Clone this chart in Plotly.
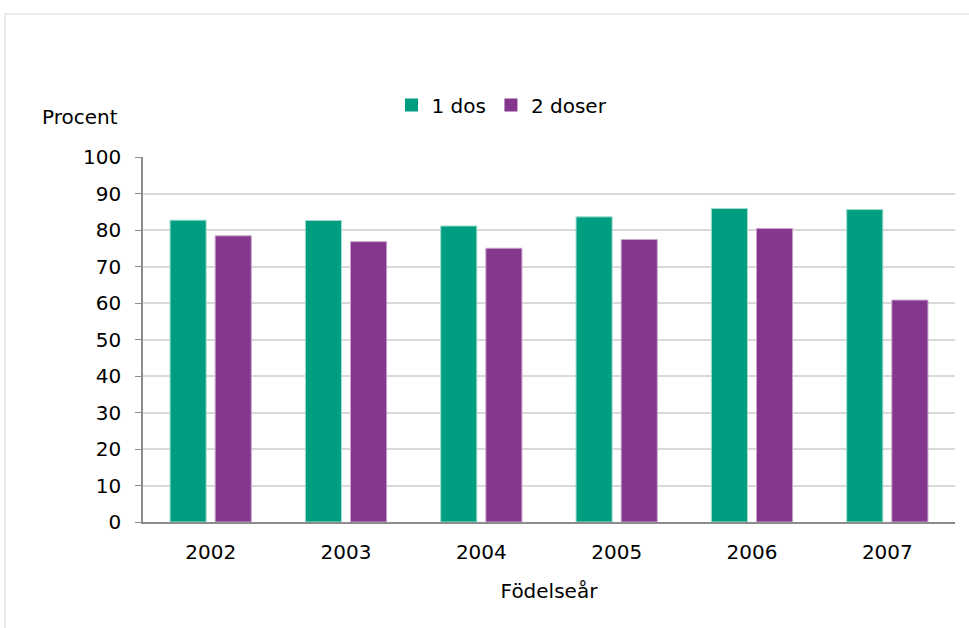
import plotly.graph_objects as go

years = ["2002", "2003", "2004", "2005", "2006", "2007"]
dos1 = [82.7, 82.6, 81.1, 83.6, 85.9, 85.6]
dos2 = [78.4, 76.8, 75.0, 77.4, 80.4, 60.8]
y_ticks = [0, 10, 20, 30, 40, 50, 60, 70, 80, 90, 100]
series_names = ["1 dos", "2 doser"]
colors = ["#009E80", "#84378C"]
edge_colors = ["#9fdccd", "#c9a3cd"]

FONT = "DejaVu Sans"
FS = 20

fig = go.Figure()
for name, vals, c, ec in zip(series_names, [dos1, dos2], colors, edge_colors):
    fig.add_trace(go.Bar(x=years, y=vals, name=name, showlegend=False,
                         marker=dict(color=c, line=dict(color=ec, width=1))))
for name, c in zip(series_names, colors):
    fig.add_trace(go.Scatter(x=[None], y=[None], mode="markers", name=name,
                             marker=dict(symbol="square", size=13, color=c)))

L, R, T, B = 143, 14, 157, 106
W, H = 969, 628
pw = W - L - R
ph = H - T - B

fig.update_layout(
    width=W, height=H,
    margin=dict(l=L, r=R, t=T, b=B, pad=0),
    paper_bgcolor="white", plot_bgcolor="white",
    barmode="group", bargap=0.333, bargroupgap=0.2,
    font=dict(family=FONT, size=FS, color="#000000"),
    showlegend=True,
    legend=dict(orientation="h", x=(502 - L) / pw, xanchor="center",
                y=(H - B - 105) / ph, yanchor="middle",
                font=dict(size=FS), itemwidth=30, traceorder="normal"),
    xaxis=dict(showline=True, linecolor="#8c8c8c", linewidth=2,
               ticks="", tickfont=dict(size=FS), ticklabelstandoff=11,
               title=dict(text="Födelseår", font=dict(size=FS), standoff=21)),
    yaxis=dict(range=[0, 100], tickvals=y_ticks, showgrid=True,
               gridcolor="#d9d9d9", gridwidth=1.5,
               showline=True, linecolor="#8c8c8c", linewidth=1.5,
               ticks="outside", ticklen=6, tickcolor="#8c8c8c",
               tickfont=dict(size=FS), ticklabelstandoff=10, zeroline=False),
    annotations=[dict(text="Procent", xref="paper", yref="paper",
                      x=(40 - L) / pw, xanchor="left",
                      y=(H - B - 117) / ph, yanchor="middle",
                      showarrow=False, font=dict(size=FS))],
    shapes=[dict(type="rect", xref="paper", yref="paper",
                 x0=(5 - L) / pw, x1=(W + 10 - L) / pw,
                 y0=(H - B - (H + 10)) / ph, y1=(H - B - 14) / ph,
                 line=dict(color="#d9d9d9", width=1), layer="below")],
)

fig.write_html("out.html")
